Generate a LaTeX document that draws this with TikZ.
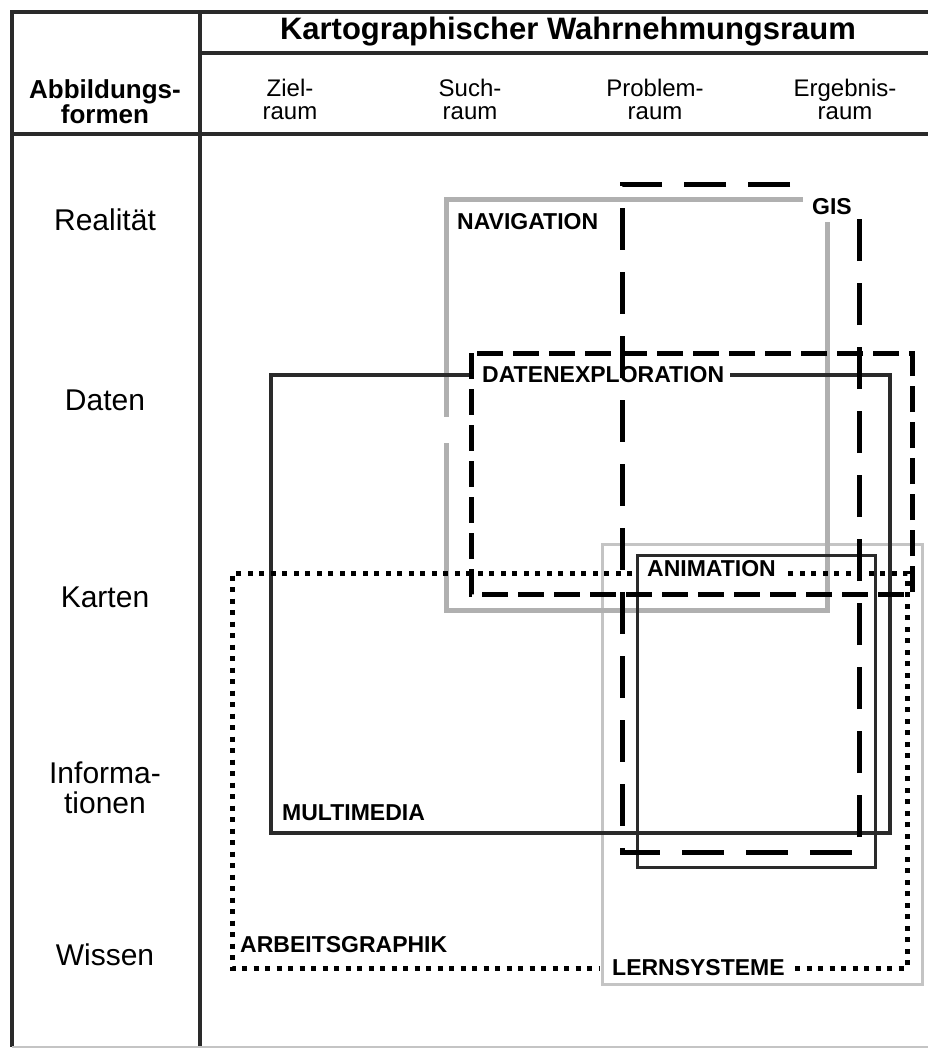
\documentclass[tikz,border=0pt]{standalone}
\usepackage{fontspec}
\setmainfont{Liberation Sans}
\usetikzlibrary{backgrounds}

\definecolor{navgray}{HTML}{B0B0B0}
\definecolor{lerngray}{HTML}{C4C4C4}
\definecolor{tabcol}{HTML}{2A2A2A}

\tikzset{
    tabline/.style={draw=tabcol, line width=4pt},
    navline/.style={draw=navgray, line width=5pt},
    lernline/.style={draw=lerngray, line width=3pt},
    gisline/.style={draw=black, line width=5pt, dash pattern=on 42pt off 22pt},
    explline/.style={draw=black, line width=5pt, dash pattern=on 26pt off 10pt},
    mmline/.style={draw=tabcol, line width=3.5pt},
    aniline/.style={draw=tabcol, line width=3pt},
    arbline/.style={draw=black, line width=5pt, dash pattern=on 5pt off 6.5pt},
    boxlabel/.style={inner sep=0pt, anchor=west,
        font=\fontsize{23}{26}\selectfont\bfseries},
    rowlabel/.style={inner sep=0pt, align=center,
        font=\fontsize{30}{30}\selectfont},
    collabel/.style={inner sep=0pt, align=center,
        font=\fontsize{24}{23}\selectfont}
}

\begin{document}
\begin{tikzpicture}[x=1pt, y=-1pt]
    \useasboundingbox (0,0) rectangle (928,1050);

    % Table frame
    \draw[tabline] (12,12) -- (928,12);
    \draw[tabline] (200,53) -- (928,53);
    \draw[tabline] (12,134) -- (928,134);
    \draw[tabline] (12,10) -- (12,1047);
    \draw[tabline] (200,10) -- (200,1047);
    \draw[draw=lerngray, line width=2pt] (12,1047) -- (928,1047);

    % Table head
    \node[font=\fontsize{31}{31}\selectfont\bfseries] (title) at (568,32)
        {Kartographischer Wahrnehmungsraum};
    \node[inner sep=0pt, align=center,
        font=\fontsize{26}{23}\selectfont\bfseries] (formen)
        at (105,102) {Abbildungs-\\formen};
    \node[collabel] (ziel) at (290,99) {Ziel-\\raum};
    \node[collabel] (such) at (470,99) {Such-\\raum};
    \node[collabel] (problem) at (655,99) {Problem-\\raum};
    \node[collabel] (ergebnis) at (845,99) {Ergebnis-\\raum};

    % Row labels
    \node[rowlabel] (realitaet) at (105,220) {Realität};
    \node[rowlabel] (daten) at (105,400) {Daten};
    \node[rowlabel] (karten) at (105,597) {Karten};
    \node[rowlabel] (info) at (105,788) {Informa-\\tionen};
    \node[rowlabel] (wissen) at (105,955) {Wissen};

    % Lernsysteme
    \draw[lernline] (602,544) rectangle (922,984);

    % Navigation
    \draw[navline] (803,199) -- (446,199) -- (446,417);
    \draw[navline] (446,443) -- (446,610) -- (827,610) -- (827,222);

    % Multimedia
    \draw[mmline] (471,375) -- (271,375) -- (271,833) -- (890,833)
        -- (890,375) -- (730,375);

    % Animation
    \draw[aniline] (637,555) rectangle (875,867);

    % Arbeitsgraphik
    \draw[arbline] (632,573) -- (232,573) -- (232,968) -- (600,968);
    \draw[arbline] (795,968) -- (907,968) -- (907,573) -- (783,573);

    % Datenexploration
    \draw[explline] (471,353) rectangle (912,594);

    % GIS
    \draw[gisline] (790,184) -- (622,184) -- (622,852) -- (859,852)
        -- (859,202);

    % Box labels
    \node[boxlabel] (nav) at (457,222) {NAVIGATION};
    \node[boxlabel] (gis) at (812,207) {GIS};
    \node[boxlabel] (explor) at (482,375) {DATENEXPLORATION};
    \node[boxlabel] (anim) at (647,569) {ANIMATION};
    \node[boxlabel] (multi) at (282,813) {MULTIMEDIA};
    \node[boxlabel] (arbeit) at (240,945) {ARBEITSGRAPHIK};
    \node[boxlabel] (lern) at (612,968) {LERNSYSTEME};
\end{tikzpicture}
\end{document}
